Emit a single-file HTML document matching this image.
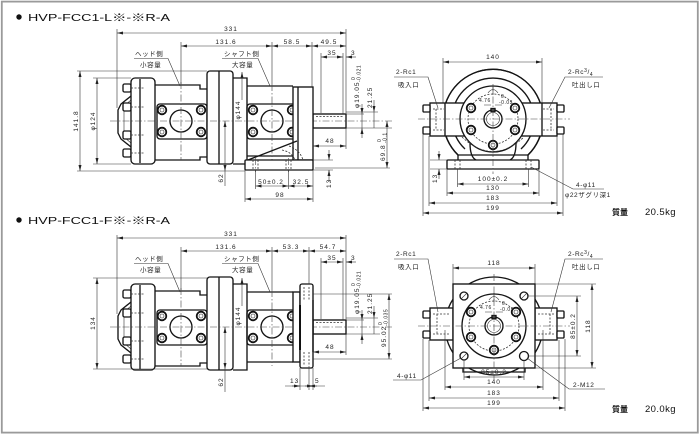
<!DOCTYPE html>
<html><head><meta charset="utf-8"><style>
html,body{margin:0;padding:0;background:#fff;width:700px;height:435px;overflow:hidden}
svg{display:block}
.o{fill:none;stroke:#151515;stroke-width:1.35}
.w{fill:#fff;stroke:#151515;stroke-width:1.35}
.t{fill:none;stroke:#333;stroke-width:0.6}
.c{fill:none;stroke:#444;stroke-width:0.6;stroke-dasharray:7 2 1.5 2}
.h{fill:none;stroke:#333;stroke-width:0.8;stroke-dasharray:2 1.5}
.dm{fill:none;stroke:#333;stroke-width:0.6;marker-start:url(#ar);marker-end:url(#ar)}
.d1{fill:none;stroke:#333;stroke-width:0.6;marker-end:url(#ar)}
.d{font-family:"Liberation Sans",sans-serif;font-size:6.5px;fill:#222;letter-spacing:1px}
.s{font-family:"Liberation Sans",sans-serif;font-size:5px;fill:#222;letter-spacing:0.5px}
.j{font-family:"Liberation Sans","Noto Sans CJK JP",sans-serif;font-size:6.5px;fill:#222;letter-spacing:0.6px}
.ti{font-family:"Liberation Sans","Noto Sans CJK JP",sans-serif;font-size:10.5px;fill:#111}
.m{font-family:"Liberation Sans","Noto Sans CJK JP",sans-serif;fill:#111}
.bt{fill:#fff;stroke:#111;stroke-width:1.8}
</style></head><body>
<svg width="700" height="435" viewBox="0 0 700 435" xmlns="http://www.w3.org/2000/svg">
<defs>
<marker id="ar" viewBox="0 0 8 4" refX="8" refY="2" markerWidth="6" markerHeight="3" markerUnits="userSpaceOnUse" orient="auto-start-reverse"><path d="M0,0 L8,2 L0,4z" fill="#222"/></marker>
<g id="bolt"><circle class="bt" r="4.3"/><circle class="t" r="2" stroke-width="0.9"/></g>
<g id="pump">
 <path class="o" d="M131,96 L121,104 L118,110 L118,133 L121,139 L131,147"/>
 <path class="t" d="M131,100 L124,106 L124,137 L131,143"/>
 <rect class="w" x="123" y="84" width="8" height="8" rx="1.5"/>
 <rect class="w" x="123" y="103" width="8" height="8" rx="1.5"/>
 <rect class="w" x="123" y="131" width="8" height="8" rx="1.5"/>
 <rect class="w" x="123" y="149" width="8" height="8" rx="1.5"/>
 <rect class="w" x="131" y="78" width="24" height="86" rx="4"/>
 <line class="o" x1="140" y1="79" x2="140" y2="163"/>
 <path class="h" d="M131,88 H145 M131,107 H145 M131,135 H145 M131,153 H145"/>
 <path class="o" d="M155,85 H200 V89 H207 M155,160 H200 V157 H207"/>
 <rect class="o" x="157" y="104" width="50" height="35" rx="3"/>
 <circle class="o" cx="181" cy="121" r="11" stroke-width="1.6"/>
 <use href="#bolt" x="162" y="110"/><use href="#bolt" x="201" y="110"/>
 <use href="#bolt" x="162" y="132"/><use href="#bolt" x="201" y="132"/>
 <rect class="w" x="207" y="71" width="26" height="93" rx="3"/>
 <line class="o" x1="219" y1="71" x2="219" y2="164"/>
 <path class="o" d="M233,78 H247 V86 H293 M247,86 V156 M233,164 H247 V156 H293"/>
 <rect class="o" x="247" y="104" width="51" height="35" rx="3"/>
 <circle class="o" cx="272" cy="121" r="11" stroke-width="1.6"/>
 <use href="#bolt" x="253" y="110"/><use href="#bolt" x="292" y="110"/>
 <use href="#bolt" x="253" y="132"/><use href="#bolt" x="292" y="132"/>
 <path class="c" d="M181,82 V160 M272,84 V160"/>
 <rect class="w" x="313" y="114" width="33" height="14"/>
 <path class="h" d="M316,116.5 H343"/>
 <path class="c" d="M110,121 H392"/>
</g>
</defs>

<rect x="1.8" y="1.6" width="696" height="431" fill="none" stroke="#9a9a9a" stroke-width="1.8"/>

<!-- ============ TOP SECTION ============ -->
<circle cx="19" cy="17" r="2.7" fill="#111"/>
<text class="ti" x="28" y="21" textLength="142" lengthAdjust="spacingAndGlyphs">HVP-FCC1-L※-※R-A</text>

<use href="#pump"/>
<rect class="w" x="293" y="87" width="20" height="73"/>
<line class="o" x1="298" y1="87" x2="298" y2="160"/>
<path class="o" d="M248,160 L297,141"/>
<path class="h" d="M289,146 Q300,150 303,160 M282,150 Q292,152 295,160"/>
<rect class="w" x="245" y="160" width="68" height="10" rx="1"/>
<path class="h" d="M253,160 V170 M258,160 V170 M286,160 V170 M291,160 V170"/>
<path class="c" d="M255.5,158 V172 M288.5,158 V172"/>

<path class="t" d="M117,29 V108 M346,29 V113 M181,42 V84 M272,42 V84 M312,42 V87 M321,53 V113 M343,53 V114"/>
<line class="dm" x1="117" y1="33" x2="346" y2="33"/>
<text class="d" x="231" y="31" text-anchor="middle">331</text>
<line class="dm" x1="181" y1="46" x2="272" y2="46"/>
<line class="dm" x1="272" y1="46" x2="312" y2="46"/>
<line class="dm" x1="312" y1="46" x2="346" y2="46"/>
<text class="d" x="226" y="44" text-anchor="middle">131.6</text>
<text class="d" x="292" y="44" text-anchor="middle">58.5</text>
<text class="d" x="329" y="44" text-anchor="middle">49.5</text>
<line class="dm" x1="321" y1="57" x2="343" y2="57"/>
<line class="d1" x1="356" y1="57" x2="346" y2="57"/>
<text class="d" x="332" y="55" text-anchor="middle">35</text>
<text class="d" x="351" y="55">3</text>
<path class="t" d="M346,114 H364 M346,128 H392 M315,168 H390 M313,160 H333 M313,170 H333 M346,128 V149"/>
<path class="d1" d="M362,104 V114"/><path class="d1" d="M362,138 V128"/>
<line class="t" x1="362" y1="114" x2="362" y2="128"/>
<path class="d1" d="M374,100 V112"/><line class="t" x1="374" y1="112" x2="374" y2="128"/>
<path class="t" d="M346,112 H378"/>
<line class="dm" x1="387" y1="121" x2="387" y2="168"/>
<g transform="translate(359,108) rotate(-90)"><text class="d" x="0" y="0">φ19.05</text><text class="s" x="28" y="-4">0</text><text class="s" x="26" y="1.5">-0.021</text></g>
<g transform="translate(372,108) rotate(-90)"><text class="d" x="0" y="0">21.25</text></g>
<g transform="translate(385,161) rotate(-90)"><text class="d" x="0" y="0">69.8</text><text class="s" x="19" y="-4">0</text><text class="s" x="18" y="1.5">-0.1</text></g>
<line class="dm" x1="313" y1="146" x2="346" y2="146"/>
<text class="d" x="330" y="143" text-anchor="middle">48</text>
<path class="d1" d="M329,150 V160"/><path class="d1" d="M329,182 V170"/>
<g transform="translate(331,188) rotate(-90)"><text class="d" x="0" y="0">13</text></g>
<path class="t" d="M93,78 H131 M93,164 H131 M77,71 H207 M77,171 H245"/>
<line class="dm" x1="97" y1="78" x2="97" y2="164"/>
<line class="dm" x1="80" y1="71" x2="80" y2="171"/>
<g transform="translate(95,121) rotate(-90)"><text class="d" x="0" y="0" text-anchor="middle">φ124</text></g>
<g transform="translate(78,121) rotate(-90)"><text class="d" x="0" y="0" text-anchor="middle">141.8</text></g>
<path class="d1" d="M242,100 V72"/>
<g transform="translate(240,110) rotate(-90)"><text class="d" x="0" y="0" text-anchor="middle">φ144</text></g>
<line class="dm" x1="225" y1="121" x2="225" y2="171"/><line class="t" x1="225" y1="171" x2="225" y2="186"/>
<g transform="translate(223,178) rotate(-90)"><text class="d" x="0" y="0" text-anchor="middle">62</text></g>
<path class="t" d="M255.5,170 V189 M288.5,170 V189 M313,170 V202 M245,170 V202"/>
<line class="dm" x1="255.5" y1="186" x2="288.5" y2="186"/>
<line class="dm" x1="288.5" y1="186" x2="313" y2="186"/>
<text class="d" x="271" y="184" text-anchor="middle">50±0.2</text>
<text class="d" x="301" y="184" text-anchor="middle">32.5</text>
<line class="dm" x1="245" y1="199" x2="313" y2="199"/>
<text class="d" x="280" y="197" text-anchor="middle">98</text>
<text class="j" x="135" y="56">ヘッド側</text>
<path class="t" d="M134,58.5 H168 L180,86"/>
<text class="j" x="140" y="67">小容量</text>
<text class="j" x="224" y="56">シャフト側</text>
<path class="t" d="M222,58.5 H258 L270,86"/>
<text class="j" x="232" y="67">大容量</text>

<!-- top end view -->
<path class="t" d="M443,58 V110 M542,58 V110"/>
<line class="dm" x1="443" y1="62" x2="542" y2="62"/>
<text class="d" x="493" y="59" text-anchor="middle">140</text>
<path class="w" d="M458,155 A50,50 0 1 1 528,155 Z" stroke="none"/>
<path class="o" d="M458,155 A50,50 0 1 1 528,155"/>
<path class="o" d="M465,149 A41,41 0 1 1 521,149"/>
<path class="o" d="M458,155 V160 M528,155 V160 M470,143 Q470,157 476,160 M516,143 Q516,157 510,160"/>
<rect class="w" x="447" y="160" width="92" height="9" rx="1"/>
<path class="h" d="M455,160 V169 M460,160 V169 M526,160 V169 M531,160 V169"/>
<rect class="w" x="430" y="103" width="127" height="33"/>
<path class="o" d="M445,103 V136 M542,103 V136"/>
<rect class="w" x="423" y="105" width="7" height="7" rx="1"/><rect class="w" x="423" y="127" width="7" height="7" rx="1"/>
<rect class="w" x="557" y="105" width="7" height="7" rx="1"/><rect class="w" x="557" y="127" width="7" height="7" rx="1"/>
<path class="h" d="M433,109 H444 M433,130 H444 M436,109 V130 M543,109 H554 M543,130 H554 M551,109 V130"/>
<circle class="w" cx="493" cy="119" r="33"/>
<circle class="h" cx="493" cy="119" r="25"/>
<path class="h" d="M462,137 Q493,166 524,137"/>
<use href="#bolt" x="471" y="108"/><use href="#bolt" x="515" y="108"/>
<use href="#bolt" x="471" y="130"/><use href="#bolt" x="515" y="130"/>
<use href="#bolt" x="493" y="145"/>
<circle class="o" cx="493" cy="119" r="9"/><circle class="t" cx="493" cy="119" r="6.5"/>
<rect class="o" x="491" y="108.5" width="4" height="3"/>
<path class="c" d="M493,84 V174 M418,119 H570"/>
<path class="t" d="M488,93 Q493,86 498,93 M493,86 V95"/>
<text class="s" x="479" y="102" font-size="6">4.76</text>
<text class="s" x="501" y="98">0</text><text class="s" x="499" y="104">-0.03</text>
<path class="t" d="M484,105 H491 M495,105 H502"/>
<text class="j" x="396" y="74">2-Rc1</text>
<path class="t" d="M394,77 H428 L438,108"/>
<text class="j" x="398" y="87">吸入口</text>
<text class="j" x="568" y="74">2-Rc<tspan font-size="5" dy="-2">3</tspan><tspan dy="2">/</tspan><tspan font-size="5" dy="2">4</tspan></text>
<path class="t" d="M603,77 H565 L549,108"/>
<text class="j" x="572" y="87">吐出し口</text>
<path class="t" d="M430,160 H447 M430,169 H447"/>
<path class="d1" d="M439,151 V160"/><path class="d1" d="M439,179 V169"/>
<g transform="translate(437,183) rotate(-90)"><text class="d" x="0" y="0">13</text></g>
<path class="t" d="M457.5,169 V187 M528.5,169 V187 M447,169 V196 M539,169 V196 M429,136 V206 M557,136 V206 M423,134 V216 M563,134 V216"/>
<line class="dm" x1="457.5" y1="184" x2="528.5" y2="184"/>
<text class="d" x="493" y="181" text-anchor="middle">100±0.2</text>
<line class="dm" x1="447" y1="193" x2="539" y2="193"/>
<text class="d" x="493" y="190" text-anchor="middle">130</text>
<line class="dm" x1="429" y1="203" x2="557" y2="203"/>
<text class="d" x="493" y="200" text-anchor="middle">183</text>
<line class="dm" x1="423" y1="213" x2="563" y2="213"/>
<text class="d" x="493" y="210" text-anchor="middle">199</text>
<path class="t" d="M531,167 L573,189 H604"/>
<text class="j" x="576" y="187">4-φ11</text>
<text class="j" x="565" y="197" font-size="6">φ22ザグリ深1</text>
<text class="m" x="612" y="215" font-size="8" font-weight="bold">質量</text>
<text class="m" x="645" y="215" font-size="9.5" letter-spacing="0.4">20.5kg</text>

<!-- ============ BOTTOM SECTION ============ -->
<circle cx="19" cy="220" r="2.7" fill="#111"/>
<text class="ti" x="28" y="224" textLength="142" lengthAdjust="spacingAndGlyphs">HVP-FCC1-F※-※R-A</text>
<use href="#pump" y="206"/>
<rect class="w" x="293" y="292" width="7" height="70"/>
<rect class="w" x="300" y="284" width="13" height="84" rx="2"/>
<line x1="300" y1="305" x2="300" y2="350" stroke="#111" stroke-width="2"/>
<path class="h" d="M304,287 V300 M309,287 V300 M304,352 V366 M309,352 V366"/>
<line class="o" x1="313" y1="300" x2="313" y2="352"/>

<path class="t" d="M117,235 V314 M346,235 V319 M181,247 V290 M272,247 V290 M309,247 V284 M321,258 V319 M343,258 V320"/>
<line class="dm" x1="117" y1="238" x2="346" y2="238"/>
<text class="d" x="231" y="236" text-anchor="middle">331</text>
<line class="dm" x1="181" y1="251" x2="272" y2="251"/>
<line class="dm" x1="272" y1="251" x2="309" y2="251"/>
<line class="dm" x1="309" y1="251" x2="346" y2="251"/>
<text class="d" x="226" y="249" text-anchor="middle">131.6</text>
<text class="d" x="291" y="249" text-anchor="middle">53.3</text>
<text class="d" x="328" y="249" text-anchor="middle">54.7</text>
<line class="dm" x1="321" y1="262" x2="343" y2="262"/>
<line class="d1" x1="356" y1="262" x2="346" y2="262"/>
<text class="d" x="332" y="260" text-anchor="middle">35</text>
<text class="d" x="351" y="260">3</text>
<path class="t" d="M313,294 H392 M313,359 H392 M346,320 H364 M346,334 H380 M346,318 H378 M346,334 V355"/>
<path class="d1" d="M362,310 V320"/><path class="d1" d="M362,344 V334"/>
<line class="t" x1="362" y1="320" x2="362" y2="334"/>
<path class="d1" d="M374,306 V318"/><line class="t" x1="374" y1="318" x2="374" y2="334"/>
<line class="dm" x1="389" y1="294" x2="389" y2="359"/>
<g transform="translate(359,314) rotate(-90)"><text class="d" x="0" y="0">φ19.05</text><text class="s" x="28" y="-4">0</text><text class="s" x="26" y="1.5">-0.021</text></g>
<g transform="translate(372,314) rotate(-90)"><text class="d" x="0" y="0">21.25</text></g>
<g transform="translate(386,347) rotate(-90)"><text class="d" x="0" y="0">95.02</text><text class="s" x="22" y="-4">0</text><text class="s" x="21" y="1.5">-0.035</text></g>
<line class="dm" x1="313" y1="352" x2="346" y2="352"/>
<text class="d" x="330" y="349" text-anchor="middle">48</text>
<path class="t" d="M300,368 V390 M309,366 V390 M313,368 V390 M285,386 H325"/>
<path class="d1" d="M292,386 H300"/><path class="d1" d="M317,386 H309"/><path class="d1" d="M305,386 H313"/>
<text class="d" x="290" y="383">13</text>
<text class="d" x="315" y="383">5</text>
<path class="t" d="M93,278 H207 M93,369 H207 M225,369 V392"/>
<line class="dm" x1="97" y1="278" x2="97" y2="369"/>
<g transform="translate(95,323) rotate(-90)"><text class="d" x="0" y="0" text-anchor="middle">134</text></g>
<path class="d1" d="M242,306 V278"/>
<g transform="translate(240,316) rotate(-90)"><text class="d" x="0" y="0" text-anchor="middle">φ144</text></g>
<line class="dm" x1="225" y1="327" x2="225" y2="369"/>
<g transform="translate(223,382) rotate(-90)"><text class="d" x="0" y="0" text-anchor="middle">62</text></g>
<text class="j" x="135" y="261">ヘッド側</text>
<path class="t" d="M134,263.5 H168 L180,292"/>
<text class="j" x="140" y="272">小容量</text>
<text class="j" x="224" y="261">シャフト側</text>
<path class="t" d="M222,263.5 H258 L270,292"/>
<text class="j" x="232" y="272">大容量</text>

<!-- bottom end view -->
<path class="t" d="M453,264 V284 M535,264 V284"/>
<line class="dm" x1="453" y1="268" x2="535" y2="268"/>
<text class="d" x="494" y="265" text-anchor="middle">118</text>
<circle class="w" cx="494" cy="326" r="49"/>
<rect class="w" x="430" y="308" width="23" height="32"/>
<rect class="w" x="535" y="308" width="22" height="32"/>
<rect class="w" x="423" y="311" width="7" height="7" rx="1"/><rect class="w" x="423" y="331" width="7" height="7" rx="1"/>
<rect class="w" x="557" y="311" width="7" height="7" rx="1"/><rect class="w" x="557" y="331" width="7" height="7" rx="1"/>
<path class="h" d="M433,314 H450 M433,334 H450 M437,314 V334 M538,314 H554 M538,334 H554 M550,314 V334"/>
<rect class="w" x="453" y="284" width="82" height="84"/>
<path class="o" d="M463,368 V372 H525 V368"/>
<circle class="o" cx="464" cy="296" r="4"/><circle class="o" cx="524" cy="296" r="4"/>
<circle class="o" cx="464" cy="356" r="4"/><circle class="o" cx="524" cy="356" r="4.5" stroke-width="1.7"/>
<path class="t" d="M461,299 L467,293 M521,299 L527,293 M461,359 L467,353"/>
<circle class="o" cx="494" cy="326" r="32"/>
<circle class="h" cx="494" cy="326" r="25"/>
<use href="#bolt" x="471" y="312"/><use href="#bolt" x="516" y="312"/>
<use href="#bolt" x="471" y="337"/><use href="#bolt" x="516" y="337"/>
<use href="#bolt" x="494" y="350"/>
<circle class="o" cx="494" cy="326" r="9"/><circle class="t" cx="494" cy="326" r="6.5"/>
<rect class="o" x="492" y="315.5" width="4" height="3"/>
<path class="c" d="M494,274 V380 M418,326 H570"/>
<path class="t" d="M489,300 Q494,293 499,300 M494,293 V302"/>
<text class="s" x="480" y="309" font-size="6">4.76</text>
<text class="s" x="502" y="305">0</text><text class="s" x="500" y="311">-0.03</text>
<path class="t" d="M485,312 H492 M496,312 H503"/>
<text class="j" x="396" y="256">2-Rc1</text>
<path class="t" d="M394,259 H428 L438,312"/>
<text class="j" x="398" y="269">吸入口</text>
<text class="j" x="568" y="256">2-Rc<tspan font-size="5" dy="-2">3</tspan><tspan dy="2">/</tspan><tspan font-size="5" dy="2">4</tspan></text>
<path class="t" d="M603,259 H565 L551,312"/>
<text class="j" x="572" y="269">吐出し口</text>
<path class="t" d="M528,296 H581 M528,356 H581 M535,284 H596 M535,368 H596"/>
<line class="dm" x1="577" y1="296" x2="577" y2="356"/>
<line class="dm" x1="592" y1="284" x2="592" y2="368"/>
<g transform="translate(575,326) rotate(-90)"><text class="d" x="0" y="0" text-anchor="middle">85±0.2</text></g>
<g transform="translate(590,326) rotate(-90)"><text class="d" x="0" y="0" text-anchor="middle">118</text></g>
<path class="t" d="M464,360 V380 M524,360 V380 M445,330 V390 M543,330 V390 M429,340 V401 M559,340 V401 M423,339 V411 M565,339 V411"/>
<line class="dm" x1="464" y1="377" x2="524" y2="377"/>
<text class="d" x="494" y="374" text-anchor="middle">85±0.2</text>
<line class="dm" x1="445" y1="387" x2="543" y2="387"/>
<text class="d" x="494" y="384" text-anchor="middle">140</text>
<line class="dm" x1="429" y1="398" x2="559" y2="398"/>
<text class="d" x="494" y="395" text-anchor="middle">183</text>
<line class="dm" x1="423" y1="408" x2="565" y2="408"/>
<text class="d" x="494" y="405" text-anchor="middle">199</text>
<path class="t" d="M393,380 H421 L461,358"/>
<text class="j" x="397" y="378">4-φ11</text>
<path class="t" d="M605,389 H569 L527,358"/>
<text class="j" x="573" y="387">2-M12</text>
<text class="m" x="612" y="412" font-size="8" font-weight="bold">質量</text>
<text class="m" x="645" y="412" font-size="9.5" letter-spacing="0.4">20.0kg</text>
</svg>
</body></html>
